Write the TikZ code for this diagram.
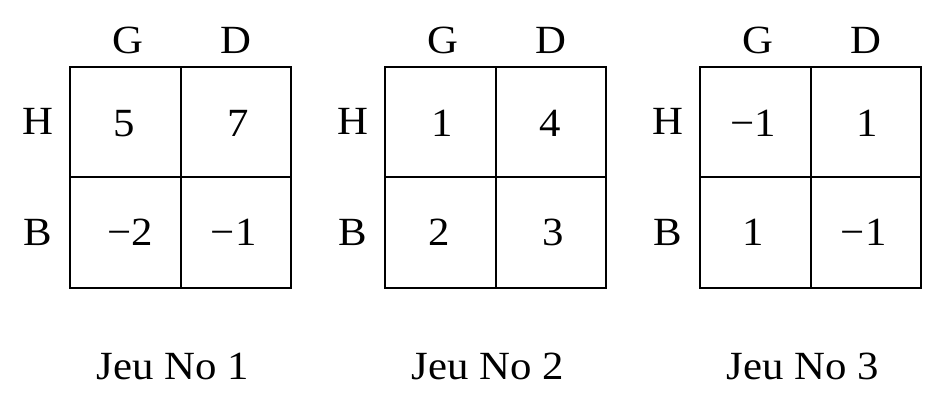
\documentclass[tikz,border=0pt]{standalone}
\usepackage{fontspec}
\setmainfont{Liberation Serif}
\newcommand{\sxtext}[1]{\scalebox{1.07}[1]{#1}}
\begin{document}
\begin{tikzpicture}[x=1pt,y=-1pt,
  cell/.style={draw,line width=2pt,minimum size=110.5pt,inner sep=0pt,anchor=north west},
  lbl/.style={inner sep=0pt,font=\fontsize{40}{42}\selectfont}]
\useasboundingbox (0,0) rectangle (943,403);
\foreach \gx/\n/\a/\ao/\b/\bo/\c/\co/\d/\dox in {69/1/5/-1/7/2/−2/5/−1/-2, 384/2/1/2/4/-1/2/-1/3/2, 699/3/−1/-2/1/1/1/-2/−1/-2}{
  \node[cell] (hg\n) at (\gx,66) {};
  \node[cell] (hd\n) at (\gx+110.5,66) {};
  \node[cell] (bg\n) at (\gx,176.5) {};
  \node[cell] (bd\n) at (\gx+110.5,176.5) {};
  \node[lbl] (vhg\n) at ([xshift=\ao pt,yshift=-1pt]hg\n.center) {\sxtext{\a}};
  \node[lbl] (vhd\n) at ([xshift=\bo pt,yshift=-1pt]hd\n.center) {\sxtext{\b}};
  \node[lbl] (vbg\n) at ([xshift=\co pt,yshift=0pt]bg\n.center) {\sxtext{\c}};
  \node[lbl] (vbd\n) at ([xshift=\dox pt,yshift=0pt]bd\n.center) {\sxtext{\d}};
  \node[lbl] (G\n) at (\gx+59,40) {\sxtext{G}};
  \node[lbl] (D\n) at (\gx+167,40) {\sxtext{D}};
  \node[lbl] (H\n) at (\gx-31,121) {\sxtext{H}};
  \node[lbl] (B\n) at (\gx-31,232) {\sxtext{B}};
  \node[lbl] (cap\n) at (\gx+104,366) {\sxtext{Jeu No \n}};
}
\end{tikzpicture}
\end{document}
